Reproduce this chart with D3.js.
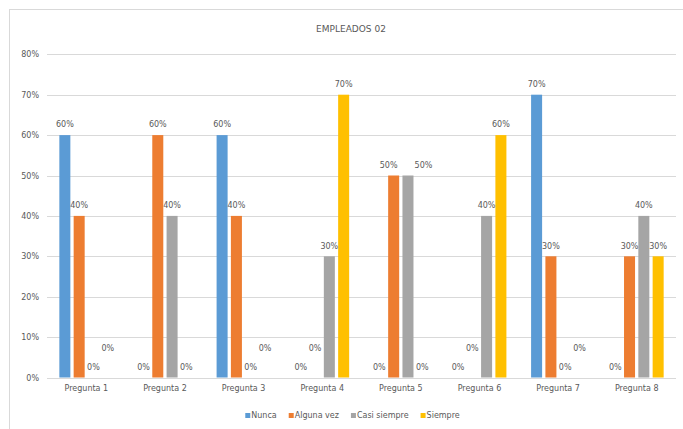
<!DOCTYPE html>
<html>
<head>
<meta charset="utf-8">
<script src="https://cdn.jsdelivr.net/npm/d3@7"></script>
<style>
  html, body { margin: 0; padding: 0; background: #fff; }
  svg { display: block; }
  text { font-family: "DejaVu Sans", Verdana, sans-serif; fill: #595959; }
</style>
</head>
<body>
<svg id="chart" width="683" height="429"></svg>
<script>
const title = "EMPLEADOS 02";
const categories = ["Pregunta 1","Pregunta 2","Pregunta 3","Pregunta 4","Pregunta 5","Pregunta 6","Pregunta 7","Pregunta 8"];
const seriesNames = ["Nunca","Alguna vez","Casi siempre","Siempre"];
const nunca      = [0.6, 0.0, 0.6, 0.0, 0.0, 0.0, 0.7, 0.0];
const algunaVez  = [0.4, 0.6, 0.4, 0.0, 0.5, 0.0, 0.3, 0.3];
const casiSiempre= [0.0, 0.4, 0.0, 0.3, 0.5, 0.4, 0.0, 0.4];
const siempre    = [0.0, 0.0, 0.0, 0.7, 0.0, 0.6, 0.0, 0.3];
const yTicks = [0, 0.1, 0.2, 0.3, 0.4, 0.5, 0.6, 0.7, 0.8];
const colors = ["#5B9BD5", "#ED7D31", "#A5A5A5", "#FFC000"];

const seriesValues = [nunca, algunaVez, casiSiempre, siempre];

const svg = d3.select("#chart");
const plot = { left: 47, right: 676, top: 54.3, bottom: 377.5 };

// chart border
svg.append("rect")
  .attr("x", 9.5).attr("y", 9.5)
  .attr("width", 690).attr("height", 430)
  .attr("fill", "none").attr("stroke", "#d9d9d9").attr("stroke-width", 1);

const x0 = d3.scaleBand().domain(categories)
  .range([plot.left, plot.right]).paddingInner(0.314).paddingOuter(0.157);
const x1 = d3.scaleBand().domain(seriesNames)
  .range([0, x0.bandwidth()]).paddingInner(0.23).paddingOuter(0);
const y = d3.scaleLinear().domain([0, 0.8]).range([plot.bottom, plot.top]);
const fmt = d3.format(".0%");

// gridlines
svg.append("g").selectAll("line").data(yTicks).join("line")
  .attr("x1", plot.left).attr("x2", plot.right)
  .attr("y1", d => Math.round(y(d)) + 0.5).attr("y2", d => Math.round(y(d)) + 0.5)
  .attr("stroke", "#d9d9d9").attr("stroke-width", 1);

// y axis labels
const yAxis = d3.axisLeft(y).tickValues(yTicks).tickFormat(fmt).tickSize(0).tickPadding(0);
const gy = svg.append("g").attr("transform", `translate(39,0)`).call(yAxis);
gy.select(".domain").remove();
gy.selectAll("text").attr("font-size", 8).attr("fill", "#595959")
  .attr("font-family", '"DejaVu Sans", Verdana, sans-serif');

// x axis labels
const xAxis = d3.axisBottom(x0).tickSize(0).tickPadding(0);
const gx = svg.append("g").attr("transform", `translate(0,${plot.bottom + 8})`).call(xAxis);
gx.select(".domain").remove();
gx.selectAll("text").attr("font-size", 8).attr("fill", "#595959")
  .attr("font-family", '"DejaVu Sans", Verdana, sans-serif');

// data rows
const rows = [];
categories.forEach((c, ci) => {
  seriesNames.forEach((s, si) => {
    const v = seriesValues[si][ci];
    const prevZero = si > 0 && seriesValues[si - 1][ci] === 0;
    rows.push({ c, ci, s, si, v, raised: v === 0 && prevZero, dx: 0 });
  });
});

svg.append("g").selectAll("rect").data(rows.filter(d => d.v > 0)).join("rect")
  .attr("x", d => x0(d.c) + x1(d.s))
  .attr("y", d => y(d.v))
  .attr("width", x1.bandwidth())
  .attr("height", d => y(0) - y(d.v))
  .attr("fill", d => colors[d.si]);

const labels = svg.append("g").selectAll("text").data(rows).join("text")
  .attr("x", d => x0(d.c) + x1(d.s) + x1.bandwidth() / 2)
  .attr("y", d => y(d.v) - 10.5 - (d.raised ? 19 : 0))
  .attr("dy", "0.35em")
  .attr("text-anchor", "middle")
  .attr("font-size", 8)
  .text(d => fmt(d.v));

// push apart neighbouring labels of the same height that collide
labels.each(function(d) { d.w = this.getComputedTextLength(); d.lx = +this.getAttribute("x"); d.ly = +this.getAttribute("y"); });
for (let i = 1; i < rows.length; i++) {
  const a = rows[i - 1], b = rows[i];
  if (a.ci !== b.ci || a.v === 0 || Math.abs(a.ly - b.ly) > 6) continue;
  const overlap = (a.lx + a.w / 2) - (b.lx - b.w / 2);
  if (overlap > 0) { a.dx -= 5; b.dx += 15.5; }
}
labels.attr("x", d => d.lx + d.dx);

// title
svg.append("text")
  .attr("x", 351).attr("y", 29).attr("dy", "0.35em")
  .attr("text-anchor", "middle").attr("font-size", 9)
  .text(title);

// legend
const lg = svg.append("g");
let lx = 0;
seriesNames.forEach((s, i) => {
  const g = lg.append("g").attr("transform", `translate(${lx},0)`);
  g.append("rect").attr("x", 0).attr("y", -2.5).attr("width", 5).attr("height", 5).attr("fill", colors[i]);
  const t = g.append("text").attr("x", 6).attr("dy", "0.35em").attr("font-size", 8).text(s);
  lx += 6 + t.node().getComputedTextLength() + 12;
});
const totalW = lx - 12;
lg.attr("transform", `translate(${352.5 - totalW / 2},415.5)`);
</script>
</body>
</html>
